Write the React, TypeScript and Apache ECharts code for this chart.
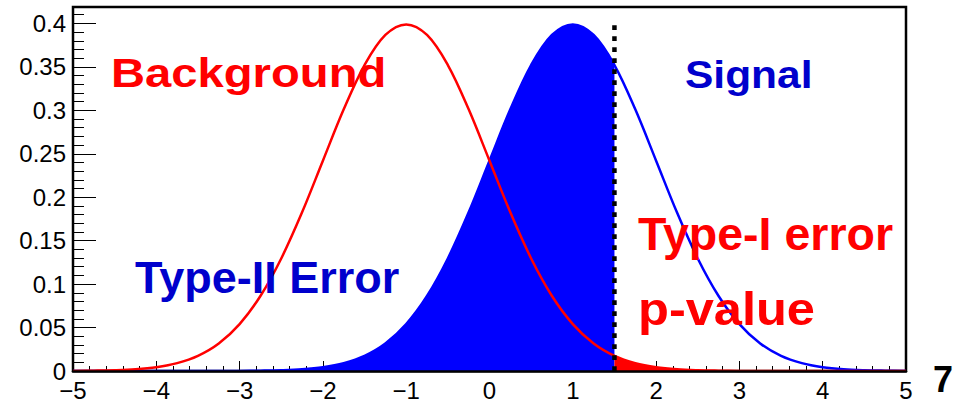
import { useEffect, useRef } from "react";
import * as echarts from "echarts";

// Sample positions along the test statistic
const xGrid = [
  -5, -4.75, -4.5, -4.25, -4, -3.75, -3.5, -3.25, -3, -2.75, -2.5, -2.25, -2,
  -1.75, -1.5, -1.25, -1, -0.75, -0.5, -0.25, 0, 0.25, 0.5, 0.75, 1, 1.25, 1.5,
  1.75, 2, 2.25, 2.5, 2.75, 3, 3.25, 3.5, 3.75, 4, 4.25, 4.5, 4.75, 5,
];

// Background hypothesis density (centred at -1)
const backgroundPdf = [
  0.0001, 0.0004, 0.0009, 0.002, 0.0044, 0.0091, 0.0175, 0.0317, 0.054, 0.0863,
  0.1295, 0.1826, 0.242, 0.3011, 0.3521, 0.3867, 0.3989, 0.3867, 0.3521, 0.3011,
  0.242, 0.1826, 0.1295, 0.0863, 0.054, 0.0317, 0.0175, 0.0091, 0.0044, 0.002,
  0.0009, 0.0004, 0.0001, 0, 0, 0, 0, 0, 0, 0, 0,
];

// Signal hypothesis density (centred at +1)
const signalPdf = [
  0, 0, 0, 0, 0, 0, 0, 0, 0.0001, 0.0004, 0.0009, 0.002, 0.0044, 0.0091, 0.0175,
  0.0317, 0.054, 0.0863, 0.1295, 0.1826, 0.242, 0.3011, 0.3521, 0.3867, 0.3989,
  0.3867, 0.3521, 0.3011, 0.242, 0.1826, 0.1295, 0.0863, 0.054, 0.0317, 0.0175,
  0.0091, 0.0044, 0.002, 0.0009, 0.0004, 0.0001,
];

// Decision threshold and the height of its marker
const cutValue = 1.5;
const cutTop = 0.4;

// Axis ranges
const xRange = [-5, 5];
const yRange = [0, 0.4189];

const RED = "#ff0000";
const BLUE = "#0000ff";
const TEXT_BLUE = "#0000cc";
const FONT = "Liberation Sans";

type Note = {
  text: string;
  color: string;
  size: number;
  left: number;
  baseline: number;
  scaleX: number;
};

const notes: Note[] = [
  { text: "Background", color: RED, size: 40, left: 111, baseline: 87, scaleX: 1.18 },
  { text: "Signal", color: TEXT_BLUE, size: 39, left: 685, baseline: 88, scaleX: 1.09 },
  { text: "Type-II Error", color: TEXT_BLUE, size: 45, left: 135, baseline: 293, scaleX: 1.0 },
  { text: "Type-I error", color: RED, size: 47, left: 638, baseline: 250, scaleX: 0.99 },
  { text: "p-value", color: RED, size: 47, left: 638, baseline: 325, scaleX: 1.076 },
  { text: "7", color: "#000000", size: 36, left: 933, baseline: 392, scaleX: 1.0 },
];

const pairs = (ys: number[], keep: (x: number) => boolean) =>
  xGrid.map((x, i) => [x, ys[i]]).filter((p) => keep(p[0]));

const fmtX = (v: number) => (v < 0 ? "\u2212" + Math.abs(v) : String(v));

export default function App() {
  const ref = useRef<HTMLDivElement>(null);

  useEffect(() => {
    if (!ref.current) return;
    const chart = echarts.init(ref.current, undefined, { renderer: "svg" });

    const graphic = notes.map((n) => ({
      type: "text",
      x: n.left,
      y: n.baseline - 0.3465 * n.size,
      scaleX: n.scaleX,
      z: 100,
      style: {
        text: n.text,
        x: 0,
        y: 0,
        fill: n.color,
        fontFamily: FONT,
        fontWeight: "bold",
        fontSize: n.size,
        align: "left",
        verticalAlign: "middle",
      },
    }));

    chart.setOption({
      animation: false,
      backgroundColor: "#ffffff",
      grid: {
        left: 73,
        right: 69,
        top: 7,
        bottom: 35,
        outerBoundsMode: "none",
        containLabel: false,
        show: true,
        borderColor: "#000",
        borderWidth: 2.5,
        backgroundColor: "transparent",
      },
      xAxis: [
        {
          type: "value",
          min: xRange[0],
          max: xRange[1],
          interval: 1,
          axisLine: { show: false, onZero: false },
          splitLine: { show: false },
          axisTick: { show: true, inside: true, length: 10, lineStyle: { color: "#000", width: 1 } },
          minorTick: { show: true, splitNumber: 5, length: 5, lineStyle: { color: "#000", width: 1 } },
          axisLabel: {
            color: "#000",
            fontFamily: FONT,
            fontSize: 24,
            lineHeight: 18,
            margin: 10,
            formatter: fmtX,
          },
        },
        {
          // bottom frame edge kept above the filled areas
          type: "value",
          min: xRange[0],
          max: xRange[1],
          position: "bottom",
          z: 10,
          axisLine: { show: true, onZero: false, lineStyle: { color: "#000", width: 2.5 } },
          axisTick: { show: false },
          axisLabel: { show: false },
          splitLine: { show: false },
        },
      ],
      yAxis: [
        {
          type: "value",
          position: "left",
          min: yRange[0],
          max: yRange[1],
          interval: 0.05,
          axisLine: { show: false, onZero: false },
          splitLine: { show: false },
          axisTick: { show: true, inside: true, length: 23, lineStyle: { color: "#000", width: 1 } },
          axisLabel: {
            color: "#000",
            fontFamily: FONT,
            fontSize: 24,
            lineHeight: 16,
            margin: 7,
            showMaxLabel: false,
          },
        },
        {
          // minor ticks every 0.01
          type: "value",
          position: "left",
          min: yRange[0],
          max: yRange[1],
          interval: 0.01,
          axisLine: { show: false, onZero: false },
          splitLine: { show: false },
          axisTick: { show: true, inside: true, length: 11, lineStyle: { color: "#000", width: 1 } },
          axisLabel: { show: false },
        },
      ],
      series: [
        {
          name: "Type-II area",
          type: "line",
          data: pairs(signalPdf, (x) => x <= cutValue),
          smooth: 0.35,
          symbol: "none",
          lineStyle: { width: 0 },
          areaStyle: { color: BLUE, opacity: 1 },
          z: 1,
        },
        {
          name: "Type-I area",
          type: "line",
          data: pairs(backgroundPdf, (x) => x >= cutValue),
          smooth: 0.35,
          symbol: "none",
          lineStyle: { width: 0 },
          areaStyle: { color: RED, opacity: 1 },
          z: 1,
        },
        {
          name: "Signal",
          type: "line",
          data: pairs(signalPdf, () => true),
          smooth: 0.35,
          symbol: "none",
          lineStyle: { color: BLUE, width: 2.5 },
          z: 3,
        },
        {
          name: "Background",
          type: "line",
          data: pairs(backgroundPdf, () => true),
          smooth: 0.35,
          symbol: "none",
          lineStyle: { color: RED, width: 2.5 },
          z: 4,
        },
        {
          name: "Cut",
          type: "line",
          data: [
            [cutValue, 0],
            [cutValue, cutTop],
          ],
          symbol: "none",
          lineStyle: { color: "#000", width: 4.5, type: [4.7, 6.3] },
          z: 5,
        },
      ],
      graphic,
    });

    return () => chart.dispose();
  }, []);

  return (
    <div
      ref={ref}
      style={{ position: "absolute", left: 0, top: 0, width: 975, height: 406, background: "#fff" }}
    />
  );
}
